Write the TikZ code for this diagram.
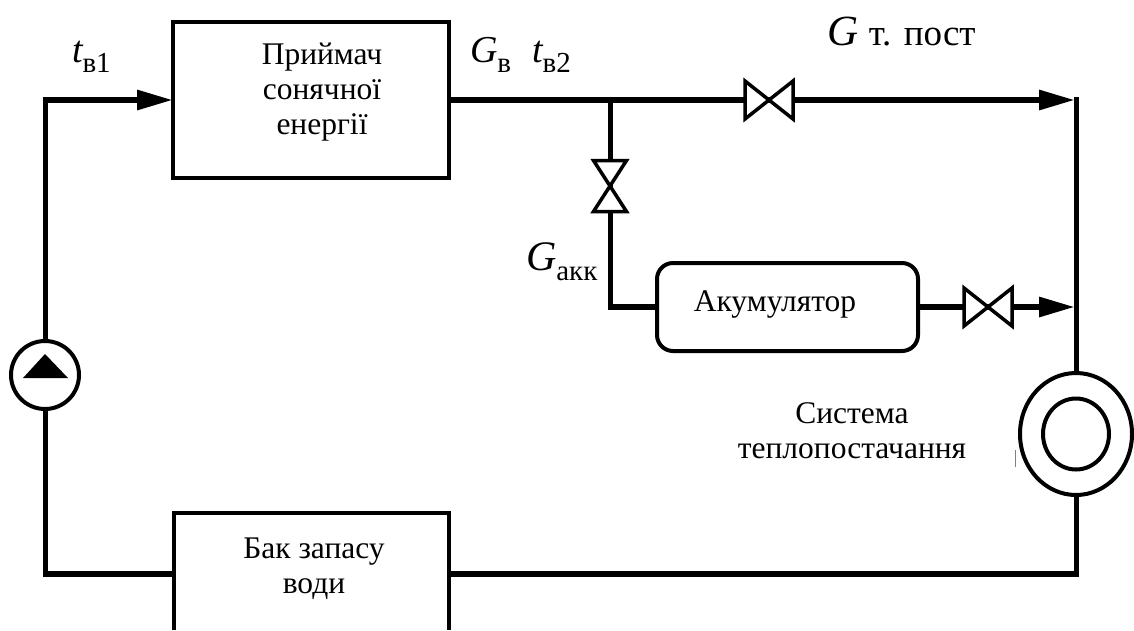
\documentclass[tikz,border=0pt]{standalone}
\usepackage{fontspec}
\setmainfont{Liberation Serif}
\usepackage{tikz}
\usetikzlibrary{shapes,arrows,positioning,calc,arrows.meta}
\newcommand{\subtxt}[1]{\raisebox{-10pt}{\fontsize{29}{29}\selectfont\upshape #1}}
\tikzset{
  every node/.style={outer sep=0pt,inner sep=0pt},
  pipe/.style={line width=6pt},
  branch/.style={line width=5pt},
  flow/.style={-{Triangle[length=36pt,width=19pt]}},
  boxline/.style={line width=4pt},
  valve/.style={line width=3.5pt,fill=white,line join=miter},
  txt/.style={font=\fontsize{31.5}{35}\selectfont,align=center},
  sym/.style={font=\fontsize{38}{38}\selectfont\itshape}
}

\begin{document}
\begin{tikzpicture}[x=1pt,y=-1pt]
    \useasboundingbox (0,0) rectangle (1134,630);

    % Boxes
    \node[boxline,draw,minimum width=276pt,minimum height=156pt] (receiver) at (311,100) {};
    \node[boxline,draw,rounded corners=16pt,minimum width=261pt,minimum height=88pt] (accum) at (787.5,307) {};
    \node[minimum width=275pt,minimum height=117pt] (tank) at (311,571.5) {};
    \draw[boxline] (tank.south west) -- (tank.north west) -- (tank.north east) -- (tank.south east);

    % Pump and heat consumer
    \node[circle,draw,line width=4pt,fill=white,minimum size=68pt] (pump) at (45,375) {};
    \node[ellipse,draw,line width=4pt,minimum width=112pt,minimum height=122pt] (heater) at (1076,434) {};
    \node[ellipse,draw,line width=4pt,minimum width=66pt,minimum height=71pt] (heaterin) at (1076,434) {};
    \fill (23,378) -- (45,354) -- (68,378) -- cycle;

    % Corners of the loop
    \coordinate (topleft) at (45,100);
    \coordinate (botleft) at (45,574);
    \coordinate (topright) at (1075,100);
    \coordinate (midright) at (1075,307);
    \coordinate (botright) at (1076,574);
    \coordinate (tee) at (610,100);
    \coordinate (elbow) at (610,307);
    \coordinate (valveA) at (769,100);
    \coordinate (valveB) at (610,186);
    \coordinate (valveC) at (988,307);

    % Pipes
    \draw[branch] (pump.north) -- (45,97);
    \draw[pipe,flow] (42.5,100) -- (receiver.west);
    \draw[pipe,flow] (receiver.east) -- (topright);
    \draw[branch] (1076,97) -- (heater.north);
    \draw[branch] (tee) -- (elbow);
    \draw[pipe] (607.5,307) -- (accum.west);
    \draw[pipe,flow] (accum.east) -- (midright);
    \draw[branch] (pump.south) -- (botleft);
    \draw[pipe] (42.5,574) -- (botleft -| tank.west);
    \draw[pipe] (botright -| tank.east) -- (1078.5,574);
    \draw[branch] (heater.south) -- (botright);

    % Valves
    \foreach \v in {valveA,valveC}
        \draw[valve] (\v) ++(-24,-19) -- ++(0,38) -- ++(48,-38) -- ++(0,38) -- cycle;
    \draw[valve] (valveB) ++(-16.5,-25.5) -- ++(33,0) -- ++(-33,51) -- ++(33,0) -- cycle;

    % Labels
    \node[txt] (recvtxt) at (322,92) {Приймач\\сонячної\\енергії};
    \node[txt] (acctxt) at (775,304) {Акумулятор};
    \node[txt] (tanktxt) at (314,569) {Бак запасу\\води};
    \node[txt] (heattxt) at (852,431) {Система\\теплопостачання};

    \node[sym,anchor=base west] (tin) at (72,62) {t\subtxt{в1}};
    \node[sym,anchor=base west] (gv) at (470,62) {G\subtxt{в}};
    \node[sym,anchor=base west] (tout) at (532,62) {t\subtxt{в2}};
    \node[sym,anchor=base west] (gacc) at (526,270) {\fontsize{42}{42}\selectfont G\subtxt{акк}};
    \node[sym,anchor=base west] (gpost) at (827,45) {\fontsize{43}{43}\selectfont G {\upshape\fontsize{37}{37}\selectfont т. пост}};

    % Stray mark beside the ring
    \draw[gray,line width=1pt] (1015,450) -- (1015,467);
\end{tikzpicture}
\end{document}
